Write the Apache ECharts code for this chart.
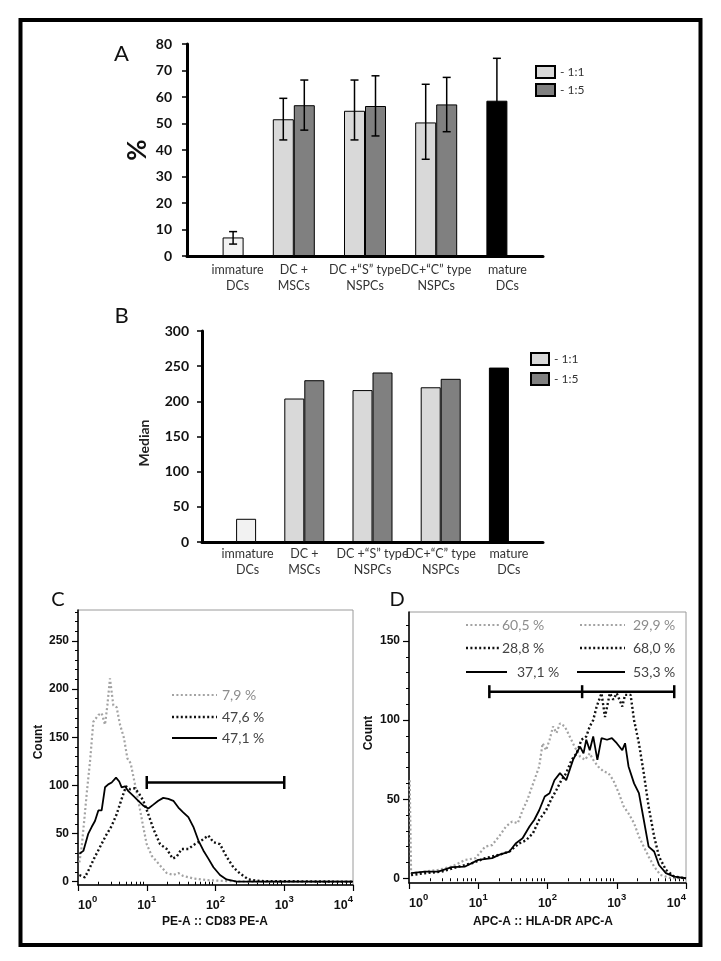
<!DOCTYPE html>
<html>
<head>
<meta charset="utf-8">
<script src="https://cdn.jsdelivr.net/npm/echarts@6/dist/echarts.min.js"></script>
<style>
html,body{margin:0;padding:0;background:#fff;}
#chart{width:721px;height:961px;}
</style>
</head>
<body>
<div id="chart"></div>
<script>
// ---------- DATA ----------
const categories = ['immature\nDCs', 'DC +\nMSCs', 'DC +\u201CS\u201D type\nNSPCs', 'DC+\u201CC\u201D type\nNSPCs', 'mature\nDCs'];
const ratioNames = ['- 1:1', '- 1:5'];

// Panel A: % positive cells (mean, error low, error high)
const pct11   = [null, 51.6, 54.8, 50.4, 58.6];
const pct11Lo = [null, 43.8, 43.8, 36.5, 42.6];
const pct11Hi = [null, 59.5, 66.4, 64.8, 74.6];
const pct15   = [7.0, 56.9, 56.6, 57.2, null];
const pct15Lo = [4.5, 47.5, 45.3, 46.9, null];
const pct15Hi = [9.2, 66.4, 68.0, 67.4, null];

// Panel B: median
const med11 = [null, 204, 216, 220, 248];
const med15 = [33, 230, 241, 232, null];

// Axis ticks
const ticksA = [0, 10, 20, 30, 40, 50, 60, 70, 80];
const ticksB = [0, 50, 100, 150, 200, 250, 300];
const ticksCY = [0, 50, 100, 150, 200, 250];
const ticksDY = [0, 50, 100, 150];
const decades = [0, 1, 2, 3, 4];

// Panel C histograms: [log10 intensity, count]
const cGray = [[0.02,20],[0.053,36],[0.09,63],[0.126,91],[0.175,125],[0.223,166],[0.296,173],[0.344,175],[0.393,163],[0.427,183],[0.465,211],[0.514,183],[0.562,181],[0.611,163],[0.669,149],[0.718,128],[0.766,123],[0.829,101],[0.878,84],[0.941,60],[0.999,39],[1.072,27],[1.144,21],[1.217,15],[1.29,9],[1.387,7],[1.46,9],[1.53,6],[1.68,3.4],[1.87,1.7],[2.16,0.7],[2.55,0],[4.0,0]];
const cBlackDot = [[0.02,7],[0.10,4.5],[0.175,15],[0.233,24],[0.32,36],[0.407,48],[0.49,58],[0.562,70],[0.635,86],[0.698,99],[0.756,96],[0.829,97],[0.892,91],[0.95,84],[1.023,70],[1.096,55],[1.193,39],[1.29,34],[1.377,24],[1.435,26],[1.508,34],[1.605,34],[1.70,39],[1.80,43],[1.896,48],[1.97,41],[2.065,39],[2.16,26],[2.26,15],[2.356,8.6],[2.478,2.4],[2.647,0.7],[4.0,0]];
const cSolid = [[0.02,29],[0.078,32],[0.15,50],[0.2,57],[0.247,63],[0.296,74],[0.344,74],[0.393,98],[0.44,101],[0.49,103],[0.553,108],[0.60,104],[0.635,98],[0.684,99],[0.732,94],[0.805,89],[0.878,84],[0.95,79],[1.023,76],[1.096,80],[1.168,84],[1.24,87],[1.314,86],[1.387,84],[1.46,77],[1.53,72],[1.605,67],[1.678,57],[1.75,43],[1.823,32.5],[1.896,24],[1.97,15],[2.065,7],[2.16,2.4],[2.31,0],[4.0,0]];
const cGate = [1.0, 3.0];
const cGateLevel = 103;
const cLabels = ['7,9 %', '47,6 %', '47,1 %'];

// Panel D histograms
const dGray = [[0.01,62],[0.03,3.2],[0.23,4.2],[0.42,5.3],[0.62,7.4],[0.81,11.6],[0.96,12.7],[1.10,20],[1.20,21],[1.30,26.4],[1.40,32.7],[1.49,35.9],[1.57,34.8],[1.64,43],[1.71,49.6],[1.76,56],[1.81,62],[1.88,70.7],[1.93,85.4],[1.98,81],[2.03,87.6],[2.08,96],[2.13,91.8],[2.18,98],[2.25,96],[2.32,89.7],[2.39,83.3],[2.47,77],[2.54,74.9],[2.61,79],[2.66,74.9],[2.73,70.7],[2.81,67.5],[2.88,66.5],[2.95,62],[3.03,53.8],[3.10,45.4],[3.17,41],[3.25,34.8],[3.32,26.4],[3.39,20],[3.46,13.7],[3.54,7.4],[3.63,2.1],[3.78,0],[4.0,0]];
const dBlackDot = [[0.03,2],[0.23,3.2],[0.47,4.2],[0.72,7.4],[0.91,9.5],[1.10,12.7],[1.30,14.8],[1.45,16.9],[1.59,22],[1.69,24],[1.79,28.5],[1.88,37],[1.98,43],[2.05,49.6],[2.13,56],[2.20,62],[2.27,66.5],[2.35,75],[2.42,79],[2.49,87.6],[2.56,89.7],[2.61,96],[2.66,100],[2.71,108.6],[2.78,117],[2.83,102],[2.90,117],[2.95,113],[3.00,117],[3.08,108.6],[3.12,116],[3.20,116],[3.25,100],[3.32,85.4],[3.39,66.5],[3.46,45.4],[3.54,26.4],[3.61,13.7],[3.71,5.3],[3.83,1],[4.0,0]];
const dSolid = [[0.03,3.2],[0.23,4.2],[0.42,4.2],[0.62,7],[0.81,7.4],[1.0,11.6],[1.20,12.7],[1.30,14.8],[1.45,16.9],[1.54,22],[1.64,25.3],[1.74,32.7],[1.81,37],[1.88,43],[1.96,51.7],[2.03,53.8],[2.10,62],[2.18,66.5],[2.27,62],[2.37,75],[2.47,83.3],[2.52,79],[2.56,87.6],[2.61,81],[2.66,89.7],[2.72,74.9],[2.78,88.6],[2.86,87.6],[2.93,88.6],[3.00,85.4],[3.08,81],[3.12,85.4],[3.17,70.7],[3.25,60],[3.32,53.8],[3.39,37],[3.46,20],[3.54,16.9],[3.61,8.4],[3.71,3.2],[3.83,1],[4.0,0]];
const dGate = [1.16, 2.50, 3.83];
const dGateLevel = 118;
const dLabelsLeft = ['60,5 %', '28,8 %', '37,1 %'];
const dLabelsRight = ['29,9 %', '68,0 %', '53,3 %'];

// ---------- STYLE ----------
const LIGHT = '#d9d9d9', DARK = '#808080', IMMATURE = '#f2f2f2', MATURE = '#000000';
const GRAY_LINE = '#a3a3a3';
const CAL = 'Lato, "Open Sans", sans-serif';
const ARI = '"Liberation Sans", Arial, sans-serif';
const barWA = 21, barWB = 20;

function barData(vals, specialIdx, specialColor) {
  return vals.map((v, i) => v == null ? '-' : (i === specialIdx ? {value: v, itemStyle: {color: specialColor}} : v));
}
function errData(lo, hi) {
  const out = [];
  lo.forEach((l, i) => { if (l != null) out.push([i, l, hi[i]]); });
  return out;
}
function errRender(offset) {
  return function (params, api) {
    const i = api.value(0);
    const lo = api.coord([i, api.value(1)]);
    const hi = api.coord([i, api.value(2)]);
    const x = lo[0] + offset;
    const cap = 4;
    const st = {stroke: '#000', lineWidth: 1.5};
    return {type: 'group', children: [
      {type: 'line', shape: {x1: x, y1: lo[1], x2: x, y2: hi[1]}, style: st},
      {type: 'line', shape: {x1: x - cap, y1: hi[1], x2: x + cap, y2: hi[1]}, style: st},
      {type: 'line', shape: {x1: x - cap, y1: lo[1], x2: x + cap, y2: lo[1]}, style: st}
    ]};
  };
}
const minorLog = [];
for (let d = 0; d < 4; d++) for (let k = 2; k <= 9; k++) minorLog.push(d + Math.log10(k));
function minorLinear(max, step, major) {
  const out = [];
  for (let v = step; v <= max; v += step) if (v % major !== 0) out.push(v);
  return out;
}

function catLabel(pad) {
  return {
    interval: 0, margin: 6, color: '#333', fontFamily: CAL, fontSize: 12.5, lineHeight: 16,
    formatter: function (v, idx) {
      const st = idx === 0 ? 'f' : 'n';
      return v.split('\n').map(s => '{' + st + '|' + s + '}').join('\n');
    },
    rich: {
      n: {fontFamily: CAL, fontSize: 12.5, color: '#333', lineHeight: 16},
      f: {fontFamily: CAL, fontSize: 12.5, color: '#333', lineHeight: 16, padding: [0, 0, 0, pad]}
    }
  };
}
function logXAxis(grid, minor) {
  if (minor) {
    return {type: 'value', gridIndex: grid, min: 0, max: 4, position: 'bottom',
      axisLine: {show: false}, splitLine: {show: false}, axisLabel: {show: false},
      axisTick: {show: true, customValues: minorLog, length: 3, lineStyle: {color: '#000', width: 1}}};
  }
  return {type: 'value', gridIndex: grid, min: 0, max: 4, position: 'bottom',
    axisLine: {show: true, onZero: false, lineStyle: {color: '#000', width: 1.5}},
    splitLine: {show: false},
    axisTick: {show: true, customValues: decades, length: 6, lineStyle: {color: '#000', width: 1.2}},
    axisLabel: {customValues: decades, margin: 9, alignMinLabel: 'left', alignMaxLabel: 'right',
      formatter: v => '{b|10}{s|' + Math.round(v) + '}',
      rich: {
        b: {fontFamily: ARI, fontWeight: 'bold', fontSize: 12.5, color: '#111', lineHeight: 18, verticalAlign: 'bottom'},
        s: {fontFamily: ARI, fontWeight: 'bold', fontSize: 9.5, color: '#111', lineHeight: 10, verticalAlign: 'top'}
      }}
  };
}
function countYAxis(grid, min, max, major, minor) {
  if (minor) {
    return {type: 'value', gridIndex: grid, min: min, max: max, position: 'left',
      axisLine: {show: false}, splitLine: {show: false}, axisLabel: {show: false},
      axisTick: {show: true, customValues: minor, length: 3, lineStyle: {color: '#000', width: 1}}};
  }
  return {type: 'value', gridIndex: grid, min: min, max: max, position: 'left',
    axisLine: {show: true, onZero: false, lineStyle: {color: '#000', width: 1.5}},
    splitLine: {show: false},
    axisTick: {show: true, customValues: major, length: 6, lineStyle: {color: '#000', width: 1.2}},
    axisLabel: {customValues: major, margin: 9, fontFamily: ARI, fontWeight: 'bold', fontSize: 12, color: '#111'}};
}
function histLine(name, xi, yi, data, kind) {
  const ls = kind === 'gray' ? {color: GRAY_LINE, width: 2.2, type: [2, 2.4]}
           : kind === 'dot' ? {color: '#111', width: 2.4, type: [2, 2.4]}
           : {color: '#000', width: 1.8, type: 'solid'};
  return {type: 'line', name: name, xAxisIndex: xi, yAxisIndex: yi, data: data, symbol: 'none',
    smooth: false, lineStyle: ls, itemStyle: {color: ls.color}, z: kind === 'solid' ? 4 : 3};
}
function gateSeries(xi, yi, xs, level) {
  return {type: 'line', name: 'gate', xAxisIndex: xi, yAxisIndex: yi,
    data: xs.map(x => [x, level]), symbol: 'rect', symbolSize: [2.5, 13], showSymbol: true,
    lineStyle: {color: '#000', width: 2.5}, itemStyle: {color: '#000'}, z: 6};
}

// ---------- graphic annotations ----------
const graphics = [];
graphics.push({type: 'rect', shape: {x: 20.5, y: 20, width: 680, height: 925},
  style: {fill: 'none', stroke: '#000', lineWidth: 4}, z: 100});
function txt(x, y, text, font, color, rot) {
  graphics.push({type: 'text', x: x, y: y, rotation: rot || 0,
    style: {text: text, x: 0, y: 0, font: font, fill: color || '#000',
      align: 'center', verticalAlign: 'middle', textAlign: 'center', textVerticalAlign: 'middle'}, z: 50});
}
function ltxt(x, y, text, color) {
  graphics.push({type: 'text', x: x, y: y,
    style: {text: text, x: 0, y: 0, font: '14px ' + CAL, fill: color,
      align: 'left', verticalAlign: 'middle', textAlign: 'left', textVerticalAlign: 'middle'}, z: 50});
}
function seg(x1, x2, y, kind) {
  const st = kind === 'gray' ? {stroke: GRAY_LINE, lineWidth: 2.2, lineDash: [2, 2.4]}
           : kind === 'dot' ? {stroke: '#111', lineWidth: 2.4, lineDash: [2, 2.4]}
           : {stroke: '#000', lineWidth: 2};
  graphics.push({type: 'line', shape: {x1: x1, y1: y, x2: x2, y2: y}, style: st, z: 50});
}
txt(121.5, 54, 'A', '22px ' + CAL, '#111');
txt(121.5, 316, 'B', '22px ' + CAL, '#111');
txt(58, 600, 'C', '20px ' + CAL, '#111');
txt(397, 600, 'D', '20px ' + CAL, '#111');
txt(138, 150, '%', 'bold 26px ' + CAL, '#111', Math.PI / 2);
txt(144, 443, 'Median', 'bold 14px ' + CAL, '#222', Math.PI / 2);
txt(39, 742, 'Count', 'bold 12px ' + ARI, '#111', Math.PI / 2);
txt(369, 733, 'Count', 'bold 12px ' + ARI, '#111', Math.PI / 2);
txt(215, 922, 'PE-A :: CD83 PE-A', 'bold 12px ' + ARI, '#111');
txt(543, 922, 'APC-A :: HLA-DR APC-A', 'bold 12px ' + ARI, '#111');

// C annotation rows
const cRows = [695, 717, 738];
const kinds = ['gray', 'dot', 'solid'];
const txtCol = ['#8c8c8c', '#444', '#444'];
cRows.forEach((y, i) => { seg(172, 217, y, kinds[i]); ltxt(222, y, cLabels[i], txtCol[i]); });
// D annotation rows
const dRows = [625, 648, 672];
dRows.forEach((y, i) => {
  seg(466, i === 2 ? 507 : 500, y, kinds[i]);
  ltxt(i === 2 ? 517 : 502, y, dLabelsLeft[i], txtCol[i]);
  seg(i === 2 ? 577 : 580, 625, y, kinds[i]);
  ltxt(633, y, dLabelsRight[i], txtCol[i]);
});

// ---------- OPTION ----------
const option = {
  animation: false,
  backgroundColor: '#fff',
  legend: [
    {data: ratioNames, left: 535, top: 65, orient: 'vertical', itemWidth: 19, itemHeight: 12, itemGap: 4,
     padding: 0, icon: 'rect', selectedMode: false, textStyle: {fontFamily: CAL, fontSize: 12, color: '#333'}},
    {data: ratioNames, left: 530, top: 352, orient: 'vertical', itemWidth: 18, itemHeight: 12, itemGap: 6,
     padding: 0, icon: 'rect', selectedMode: false, textStyle: {fontFamily: CAL, fontSize: 12, color: '#333'}}
  ],
  grid: [
    {left: 187, top: 44, width: 356, height: 212, containLabel: false, outerBoundsMode: 'none'},
    {left: 202, top: 331, width: 341, height: 211, containLabel: false, outerBoundsMode: 'none'},
    {left: 78, top: 610, width: 275, height: 275, show: true, borderColor: '#9a9a9a', borderWidth: 1, containLabel: false, outerBoundsMode: 'none'},
    {left: 409, top: 612, width: 277, height: 271, show: true, borderColor: '#9a9a9a', borderWidth: 1, containLabel: false, outerBoundsMode: 'none'}
  ],
  xAxis: [
    {type: 'category', gridIndex: 0, data: categories, boundaryGap: true,
     axisLine: {show: true, lineStyle: {color: '#000', width: 3}}, axisTick: {show: false}, axisLabel: catLabel(30)},
    {type: 'category', gridIndex: 1, data: categories, boundaryGap: true,
     axisLine: {show: true, lineStyle: {color: '#000', width: 3}}, axisTick: {show: false},
     axisLabel: Object.assign(catLabel(23), {margin: 4, lineHeight: 15})},
    logXAxis(2, false), logXAxis(2, true),
    logXAxis(3, false), logXAxis(3, true)
  ],
  yAxis: [
    {type: 'value', gridIndex: 0, min: ticksA[0], max: ticksA[ticksA.length - 1], interval: 10,
     axisLine: {show: true, lineStyle: {color: '#000', width: 3}},
     axisTick: {show: true, length: 5, lineStyle: {color: '#000', width: 1.5}},
     splitLine: {show: false},
     axisLabel: {margin: 15, fontFamily: CAL, fontWeight: 'bold', fontSize: 14, color: '#111'}},
    {type: 'value', gridIndex: 1, min: ticksB[0], max: ticksB[ticksB.length - 1], interval: 50,
     axisLine: {show: true, lineStyle: {color: '#000', width: 3}},
     axisTick: {show: true, length: 5, lineStyle: {color: '#000', width: 1.5}},
     splitLine: {show: false},
     axisLabel: {margin: 13, fontFamily: CAL, fontWeight: 'bold', fontSize: 14, color: '#111'}},
    countYAxis(2, -3.4, 282, ticksCY, null),
    countYAxis(2, -3.4, 282, null, minorLinear(280, 10, 50)),
    countYAxis(3, -3, 168.4, ticksDY, null),
    countYAxis(3, -3, 168.4, null, minorLinear(160, 10, 50))
  ],
  series: [
    {type: 'bar', name: ratioNames[0], xAxisIndex: 0, yAxisIndex: 0, data: barData(pct11, 4, MATURE),
     barWidth: barWA, barGap: '0%', itemStyle: {color: LIGHT, borderColor: '#000', borderWidth: 1}},
    {type: 'bar', name: ratioNames[1], xAxisIndex: 0, yAxisIndex: 0, data: barData(pct15, 0, IMMATURE),
     barWidth: barWA, barGap: '0%', itemStyle: {color: DARK, borderColor: '#000', borderWidth: 1}},
    {type: 'custom', name: 'errA1', xAxisIndex: 0, yAxisIndex: 0, data: errData(pct11Lo, pct11Hi),
     encode: {x: 0, y: [1, 2]}, renderItem: errRender(-barWA / 2), z: 5},
    {type: 'custom', name: 'errA2', xAxisIndex: 0, yAxisIndex: 0, data: errData(pct15Lo, pct15Hi),
     encode: {x: 0, y: [1, 2]}, renderItem: errRender(barWA / 2), z: 5},
    {type: 'bar', name: ratioNames[0], xAxisIndex: 1, yAxisIndex: 1, data: barData(med11, 4, MATURE),
     barWidth: barWB, barGap: '0%', itemStyle: {color: LIGHT, borderColor: '#000', borderWidth: 1}},
    {type: 'bar', name: ratioNames[1], xAxisIndex: 1, yAxisIndex: 1, data: barData(med15, 0, IMMATURE),
     barWidth: barWB, barGap: '0%', itemStyle: {color: DARK, borderColor: '#000', borderWidth: 1}},
    histLine('C gray', 2, 2, cGray, 'gray'),
    histLine('C dotted', 2, 2, cBlackDot, 'dot'),
    histLine('C solid', 2, 2, cSolid, 'solid'),
    gateSeries(2, 2, cGate, cGateLevel),
    histLine('D gray', 4, 4, dGray, 'gray'),
    histLine('D dotted', 4, 4, dBlackDot, 'dot'),
    histLine('D solid', 4, 4, dSolid, 'solid'),
    gateSeries(4, 4, dGate, dGateLevel)
  ],
  graphic: graphics
};

const chart = echarts.init(document.getElementById('chart'), null, {renderer: 'canvas'});
chart.setOption(option);
</script>
</body>
</html>
